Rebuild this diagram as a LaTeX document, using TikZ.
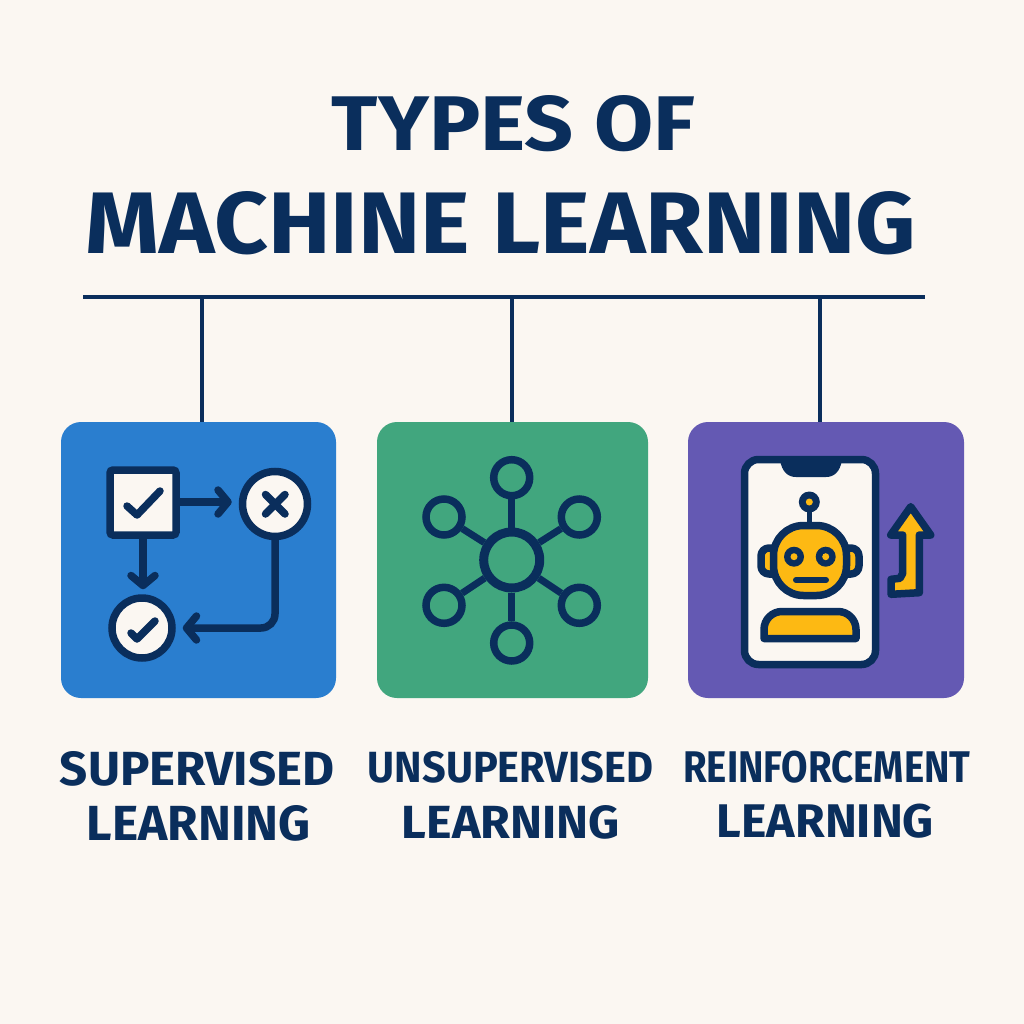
\documentclass[tikz,border=0pt]{standalone}
\usepackage{fontspec}
\usepackage{graphicx}
\setmainfont{Fira Sans}
\usetikzlibrary{shapes,arrows.meta,positioning,calc}
\definecolor{paper}{HTML}{FBF7F2}
\definecolor{navy}{HTML}{0A2E5C}
\definecolor{supblue}{HTML}{2A7ECF}
\definecolor{unsgreen}{HTML}{41A67E}
\definecolor{reipurple}{HTML}{6459B3}
\definecolor{robotyellow}{HTML}{FDB913}
\newcommand{\fitword}[3]{\resizebox{#1pt}{#2pt}{\bfseries #3}}
\tikzset{>=latex}
\tikzset{
  wordtext/.style={text=navy,anchor=base,inner sep=0pt},
  typebox/.style={rounded corners=20pt,minimum height=276pt,inner sep=0pt,outer sep=0pt},
  link/.style={navy,line width=4pt},
  icon/.style={navy,line width=7.5pt,line cap=round,line join=round},
  flow/.style={icon,-{Straight Barb[round,length=10pt,width=24pt]}},
  whitecirc/.style={circle,draw=navy,fill=paper,line width=7.5pt,inner sep=0pt},
  leaf/.style={circle,draw=navy,line width=7.5pt,inner sep=0pt,minimum size=36pt},
  eyedot/.style={circle,fill=robotyellow,inner sep=0pt,minimum size=7pt}
}
\begin{document}
\begin{tikzpicture}[x=1pt,y=-1pt]
  \useasboundingbox (0,0) rectangle (1024,1024);
  \fill[paper] (0,0) rectangle (1024,1024);

  \node[wordtext] (titleA) at (513.5,151) {\fitword{363}{55}{TYPES OF}};
  \node[wordtext] (titleB) at (501,253.5) {\fitword{830}{62}{MACHINE LEARNING}};

  \coordinate (barleft) at (83,297);
  \coordinate (barright) at (925,297);
  \coordinate (tapA) at (202,297);
  \coordinate (tapB) at (511.5,297);
  \coordinate (tapC) at (820,297);

  \node[typebox,fill=supblue,minimum width=275pt] (supbox) at (198.5,560) {};
  \node[typebox,fill=unsgreen,minimum width=271pt] (unsbox) at (512.5,560) {};
  \node[typebox,fill=reipurple,minimum width=276pt] (reibox) at (826,560) {};

  \draw[link] (barleft) -- (barright);
  \draw[link] (tapA) -- (tapA |- supbox.north);
  \draw[link] (tapB) -- (tapB |- unsbox.north);
  \draw[link] (tapC) -- (tapC |- reibox.north);

  % supervised
  \node[draw=navy,fill=paper,line width=7.5pt,rounded corners=3pt,minimum width=66pt,minimum height=65pt,inner sep=0pt] (labelbox) at (143,502.5) {};
  \node[whitecirc,minimum size=65pt] (wrongnode) at (275,504) {};
  \node[whitecirc,minimum size=60pt] (rightnode) at (142,628) {};
  \draw[flow] (labelbox.east |- 0,502) -- ([xshift=-7pt]wrongnode.west |- 0,502);
  \draw[flow] (labelbox.south -| 143,0) -- ([yshift=5pt]rightnode.north -| 143,0);
  \draw[flow,rounded corners=14pt] (wrongnode.south) -- (275,628) -- ([xshift=7pt]rightnode.east);
  \draw[icon] (127,506) -- (137,515) -- (160,491);
  \draw[icon] (131,633) -- (137,639) -- (155,621);
  \draw[icon] (265.5,494.5) -- (285,514);
  \draw[icon] (285,494.5) -- (265.5,514);

  % unsupervised
  \node[circle,draw=navy,line width=9pt,inner sep=0pt,minimum size=56pt] (hub) at (511.7,560) {};
  \node[leaf] (leafN) at (511.7,477.7) {};
  \node[leaf] (leafNW) at (444,517) {};
  \node[leaf] (leafNE) at (579.3,517) {};
  \node[leaf] (leafSW) at (444,605.3) {};
  \node[leaf] (leafSE) at (579.3,605.3) {};
  \node[leaf] (leafS) at (511.7,643) {};
  \draw[navy,line width=7pt] (hub) -- (leafN);
  \draw[navy,line width=7pt] (hub) -- (leafNW);
  \draw[navy,line width=7pt] (hub) -- (leafNE);
  \draw[navy,line width=7pt] (hub) -- (leafSW);
  \draw[navy,line width=7pt] (hub) -- (leafSE);
  \draw[navy,line width=7pt] (hub) -- (leafS);

  % reinforcement
  \node[draw=navy,fill=paper,line width=7.5pt,rounded corners=14pt,minimum width=131pt,minimum height=205pt,inner sep=0pt] (phone) at (810,562) {};
  \fill[navy] (780,460) .. controls (782,472) and (788,477) .. (796,477) -- (826,477) .. controls (834,477) and (840,472) .. (842,460) -- cycle;
  \draw[icon,line width=5pt,line cap=butt] (809.3,510) -- (809.3,524);
  \node[circle,fill=navy,inner sep=0pt,minimum size=21pt] (antenna) at (809.3,502) {};
  \node[eyedot] at (antenna) {};
  \draw[icon,fill=robotyellow,rounded corners=8pt] (761,548) rectangle (780,574);
  \draw[icon,fill=robotyellow,rounded corners=8pt] (840,548) rectangle (859,574);
  \node[draw=navy,fill=robotyellow,line width=7.5pt,rounded corners=30pt,minimum width=73pt,minimum height=70pt,inner sep=0pt] (head) at (810,560.5) {};
  \node[circle,fill=navy,inner sep=0pt,minimum size=20pt] (eyeA) at (794,556.7) {};
  \node[circle,fill=navy,inner sep=0pt,minimum size=20pt] (eyeB) at (825.7,556.7) {};
  \node[eyedot] at (eyeA) {};
  \node[eyedot] at (eyeB) {};
  \draw[icon,line width=6pt] (796,580) -- (826,580);
  \draw[icon,fill=robotyellow] (764,638.5) [rounded corners=18pt] -- (764,611.5) -- (856,611.5) [sharp corners] -- (856,638.5) -- cycle;
  \draw[icon,fill=robotyellow] (910.7,506.7) -- (890.7,535) -- (902.7,535) -- (902.7,573.3) -- (900,578.3) -- (891,579.3) -- (891,594.3) -- (919.3,592.7) -- (919.3,535) -- (930.7,535) -- cycle;

  \node[wordtext] (supA) at (197,785) {\fitword{274}{34}{SUPERVISED}};
  \node[wordtext] (supB) at (198.7,840) {\fitword{224}{35}{LEARNING}};
  \node[wordtext] (unsA) at (510.5,782) {\fitword{285}{31}{UNSUPERVISED}};
  \node[wordtext] (unsB) at (510.8,838) {\fitword{218}{33}{LEARNING}};
  \node[wordtext] (reiA) at (826.8,782.5) {\fitword{287}{31.5}{REINFORCEMENT}};
  \node[wordtext] (reiB) at (825.5,837.5) {\fitword{217}{33.5}{LEARNING}};
\end{tikzpicture}
\end{document}
